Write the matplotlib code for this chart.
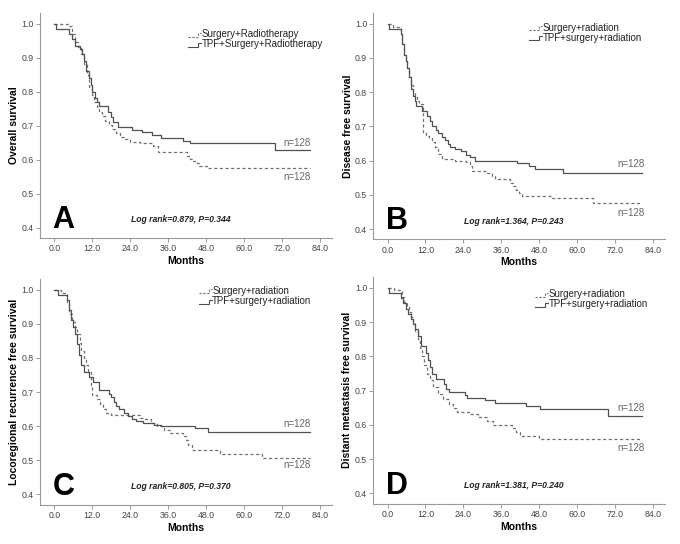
import matplotlib
matplotlib.use('Agg')
import matplotlib.pyplot as plt

plt.rcParams['font.family'] = ['Liberation Sans', 'DejaVu Sans']

# Kaplan-Meier step data (time in months, survival)
# Panel A - overall survival
a_sr_t = [0, 4.4, 5.5, 6.5, 7.5, 8.5, 9.5, 10.3, 11.0, 11.8, 12.6, 13.4, 14.2, 15.2, 16.2, 17.2, 18.3,
          19.5, 20.8, 22.3, 24.0, 27.0, 31.3, 32.8, 42.0, 42.8, 43.6, 44.6, 45.8, 48.2]
a_sr_s = [1.0, 0.992, 0.968, 0.945, 0.93, 0.91, 0.88, 0.85, 0.815, 0.79, 0.77, 0.755, 0.74, 0.728, 0.715,
          0.703, 0.69, 0.678, 0.668, 0.66, 0.653, 0.648, 0.64, 0.624, 0.61, 0.602, 0.595, 0.59, 0.583, 0.575]
a_tpf_t = [0, 0.7, 4.7, 5.5, 6.5, 8.0, 8.9, 9.4, 10.2, 11.1, 11.5, 12.1, 12.9, 13.4, 14.2, 17.1, 17.8,
           18.7, 20.2, 24.5, 27.6, 31.0, 33.9, 40.8, 42.9, 69.8]
a_tpf_s = [1.0, 0.985, 0.97, 0.955, 0.935, 0.925, 0.91, 0.89, 0.86, 0.84, 0.82, 0.80, 0.78, 0.77, 0.757,
           0.74, 0.725, 0.71, 0.697, 0.688, 0.68, 0.672, 0.664, 0.656, 0.648, 0.628]

# Panel B - disease free survival
b_sr_t = [0, 1.6, 4.2, 4.7, 5.2, 5.7, 6.2, 6.8, 7.4, 8.0, 8.6, 9.3, 10.0, 11.2, 12.2, 13.1, 14.0, 15.0,
          16.0, 17.3, 21.5, 24.7, 26.2, 26.8, 31.5, 33.0, 34.1, 38.8, 39.6, 40.5, 41.5, 42.5, 52.0, 65.1]
b_sr_s = [1.0, 0.99, 0.97, 0.94, 0.91, 0.89, 0.87, 0.845, 0.82, 0.80, 0.785, 0.775, 0.765, 0.68, 0.673,
          0.665, 0.655, 0.64, 0.62, 0.605, 0.60, 0.595, 0.585, 0.57, 0.565, 0.555, 0.545, 0.535, 0.525,
          0.515, 0.505, 0.498, 0.49, 0.476]
b_tpf_t = [0, 0.5, 4.2, 4.7, 5.2, 5.7, 6.2, 6.8, 7.4, 8.0, 8.6, 9.1, 10.8, 12.6, 13.4, 14.0, 15.2, 16.0,
           17.3, 18.2, 19.0, 19.7, 21.5, 23.1, 24.7, 26.2, 27.8, 41.0, 44.6, 46.7, 55.6]
b_tpf_s = [1.0, 0.985, 0.97, 0.94, 0.91, 0.89, 0.87, 0.845, 0.81, 0.79, 0.775, 0.76, 0.745, 0.73, 0.715,
           0.70, 0.69, 0.68, 0.67, 0.66, 0.648, 0.64, 0.633, 0.627, 0.617, 0.61, 0.60, 0.593, 0.583,
           0.575, 0.565]

# Panel C - locoregional recurrence free survival
c_sr_t = [0, 2.3, 3.9, 4.8, 5.7, 6.5, 7.3, 8.0, 8.6, 9.3, 10.0, 10.8, 11.5, 12.1, 13.4, 14.4, 15.5, 16.5,
          18.0, 27.0, 28.0, 30.5, 32.6, 34.7, 36.6, 40.7, 41.5, 42.3, 43.4, 52.4, 65.6]
c_sr_s = [1.0, 0.99, 0.96, 0.93, 0.905, 0.89, 0.87, 0.845, 0.82, 0.80, 0.78, 0.76, 0.72, 0.69, 0.68,
          0.665, 0.65, 0.64, 0.632, 0.625, 0.62, 0.61, 0.60, 0.59, 0.58, 0.57, 0.56, 0.545, 0.53, 0.52, 0.507]
c_tpf_t = [0, 1.3, 4.0, 4.6, 5.2, 5.8, 6.5, 7.2, 7.8, 8.6, 9.4, 11.1, 12.4, 14.2, 17.3, 18.0, 18.8, 19.6,
           20.6, 22.0, 23.4, 24.6, 26.0, 28.0, 31.5, 33.9, 44.5, 48.7]
c_tpf_s = [1.0, 0.985, 0.97, 0.94, 0.91, 0.89, 0.87, 0.84, 0.81, 0.78, 0.76, 0.745, 0.73, 0.706, 0.695,
           0.685, 0.67, 0.66, 0.65, 0.64, 0.63, 0.62, 0.615, 0.61, 0.605, 0.60, 0.594, 0.584]

# Panel D - distant metastasis free survival
d_sr_t = [0, 1.9, 4.5, 5.2, 6.0, 6.8, 7.5, 8.2, 8.8, 9.5, 10.2, 10.8, 11.6, 12.4, 13.5, 14.5, 16.0, 17.7,
          19.3, 20.8, 21.9, 26.1, 28.7, 31.4, 33.5, 39.3, 40.5, 41.8, 47.8]
d_sr_s = [1.0, 0.995, 0.975, 0.96, 0.945, 0.93, 0.915, 0.90, 0.875, 0.85, 0.825, 0.80, 0.775, 0.75, 0.73,
          0.71, 0.69, 0.675, 0.66, 0.648, 0.639, 0.632, 0.624, 0.612, 0.60, 0.59, 0.58, 0.568, 0.559]
d_tpf_t = [0, 0.5, 4.3, 5.0, 5.8, 6.6, 7.3, 8.2, 8.7, 9.5, 10.6, 12.3, 12.8, 13.4, 14.0, 15.4, 18.0, 18.6,
           19.6, 24.5, 25.0, 30.8, 34.0, 43.9, 48.1, 69.6]
d_tpf_s = [1.0, 0.985, 0.97, 0.955, 0.94, 0.925, 0.91, 0.895, 0.88, 0.86, 0.83, 0.81, 0.79, 0.77, 0.75,
           0.735, 0.72, 0.705, 0.697, 0.688, 0.68, 0.672, 0.664, 0.656, 0.647, 0.627]

followup_end = [80.8, 80.5, 80.8, 80.5]
panel_letters = ['A', 'B', 'C', 'D']
ylabels = ['Overall survival', 'Disease free survival',
           'Locoregional recurrence free survival', 'Distant metastasis free survival']
legend_sr = ['Surgery+Radiotherapy', 'Surgery+radiation', 'Surgery+radiation', 'Surgery+radiation']
legend_tpf = ['TPF+Surgery+Radiotherapy', 'TPF+surgery+radiation', 'TPF+surgery+radiation',
              'TPF+surgery+radiation']
logrank = ['Log rank=0.879, P=0.344', 'Log rank=1.364, P=0.243',
           'Log rank=0.805, P=0.370', 'Log rank=1.381, P=0.240']
n_label = 'n=128'
xticks = [0, 12, 24, 36, 48, 60, 72, 84]
yticks = [0.4, 0.5, 0.6, 0.7, 0.8, 0.9, 1.0]

curves = [(a_sr_t, a_sr_s, a_tpf_t, a_tpf_s),
          (b_sr_t, b_sr_s, b_tpf_t, b_tpf_s),
          (c_sr_t, c_sr_s, c_tpf_t, c_tpf_s),
          (d_sr_t, d_sr_s, d_tpf_t, d_tpf_s)]

# layout (figure fractions) and decoration placement
positions = [[0.0588, 0.5625, 0.4294, 0.4142],
             [0.549, 0.560, 0.429, 0.4165],
             [0.0588, 0.0722, 0.4294, 0.4154],
             [0.549, 0.0741, 0.429, 0.4167]]
legend_xy = [(0.553, 0.905), (0.58, 0.935), (0.59, 0.947), (0.60, 0.925)]
n_upper = [0.649, 0.591, 0.606, 0.648]
n_lower = [0.550, 0.447, 0.486, 0.533]
ylab_x = [-0.072, -0.070, -0.072, -0.072]

fig = plt.figure(figsize=(6.8, 5.44), dpi=100)
line_col = '#505050'
dash_col = '#707070'
for i in range(4):
    ax = fig.add_axes(positions[i])
    sr_t, sr_s, tpf_t, tpf_s = curves[i]
    ax.step(list(sr_t) + [followup_end[i]], list(sr_s) + [sr_s[-1]], where='post',
            color=dash_col, lw=0.9, linestyle=(0, (2.5, 2)))
    ax.step(list(tpf_t) + [followup_end[i]], list(tpf_s) + [tpf_s[-1]], where='post',
            color=line_col, lw=0.9)

    ax.set_xlim(-4.5, 87.8)
    ax.set_ylim(0.37, 1.032)
    ax.set_xticks(xticks)
    ax.set_xticklabels(['%.1f' % x for x in xticks])
    ax.set_yticks(yticks)
    ax.set_yticklabels(['%.1f' % y for y in yticks])
    for s in ['top', 'right']:
        ax.spines[s].set_visible(False)
    for s in ['left', 'bottom']:
        ax.spines[s].set_color('#9a9a9a')
        ax.spines[s].set_linewidth(0.8)
    ax.tick_params(length=3, width=0.7, color='#9a9a9a', labelsize=6.3, labelcolor='#444444', pad=1.5)

    ax.set_ylabel(ylabels[i], fontsize=7.5, fontweight='bold')
    ax.yaxis.set_label_coords(ylab_x[i], 0.5)
    ax.set_xlabel('Months', fontsize=7.5, fontweight='bold')
    ax.xaxis.set_label_coords(0.5, -0.08)

    # legend drawn the SPSS way: tiny step symbols
    lx, ly = legend_xy[i]
    dy = 0.045
    ax.plot([lx - 0.045, lx - 0.012, lx - 0.012, lx - 0.002], [ly - 0.012, ly - 0.012, ly + 0.006, ly + 0.006],
            transform=ax.transAxes, color=dash_col, lw=0.8, linestyle=(0, (2, 1.5)))
    ax.plot([lx - 0.045, lx - 0.012, lx - 0.012, lx - 0.002],
            [ly - dy - 0.012, ly - dy - 0.012, ly - dy + 0.006, ly - dy + 0.006],
            transform=ax.transAxes, color=line_col, lw=0.8)
    ax.text(lx, ly, legend_sr[i], transform=ax.transAxes, fontsize=7, va='center', ha='left',
            color='#222222')
    ax.text(lx, ly - dy, legend_tpf[i], transform=ax.transAxes, fontsize=7, va='center', ha='left',
            color='#222222')

    ax.text(81.2, n_upper[i], n_label, fontsize=7, color='#666666', ha='right', va='center')
    ax.text(81.2, n_lower[i], n_label, fontsize=7, color='#666666', ha='right', va='center')

    ax.text(-0.5, 0.423, panel_letters[i], fontsize=22, fontweight='bold', ha='left', va='center',
            color='black')
    ax.text(24.2, 0.423, logrank[i], fontsize=6.2, fontweight='bold', fontstyle='italic',
            ha='left', va='center', color='#222222')

fig.savefig('out.png', dpi=100, facecolor='white')
